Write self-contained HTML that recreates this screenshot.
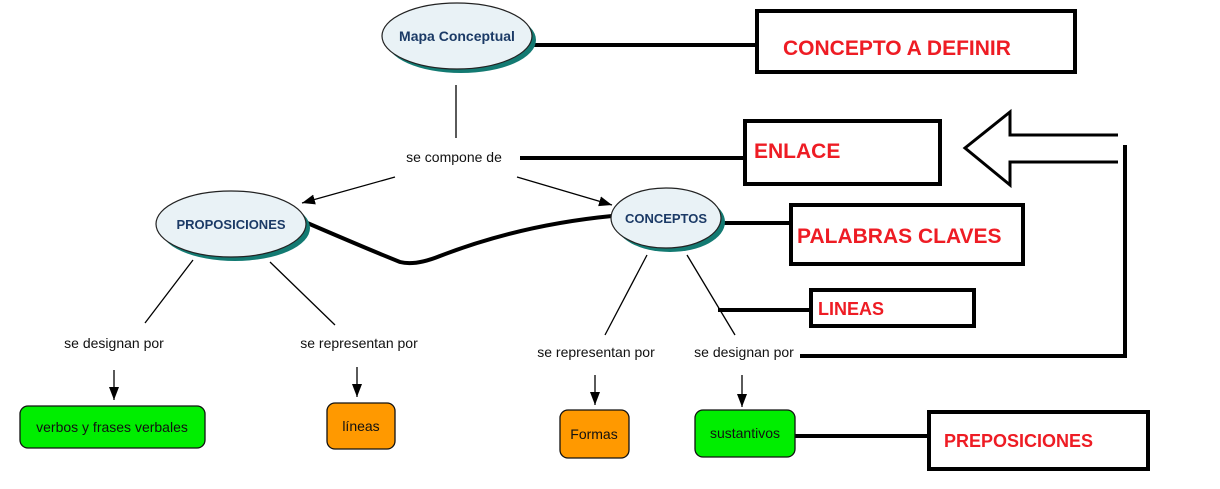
<!DOCTYPE html><html><head><style>body{margin:0;background:#fff}svg{display:block}</style></head><body>
<svg width="1220" height="489" xmlns="http://www.w3.org/2000/svg" font-family="Liberation Sans, sans-serif">
<defs><marker id="a" markerWidth="10" markerHeight="10" refX="9" refY="5" orient="auto" markerUnits="userSpaceOnUse"><path d="M0,0L10,5L0,10z" fill="#000"/></marker>
<marker id="b" markerWidth="14" markerHeight="14" refX="13" refY="7" orient="auto" markerUnits="userSpaceOnUse"><path d="M0,2L13,7L0,12z" fill="#000"/></marker></defs>
<g stroke="#000" stroke-width="1.3" fill="none">
<line x1="456" y1="85" x2="456" y2="138"/>
<line x1="395" y1="177" x2="302" y2="203" marker-end="url(#b)"/>
<line x1="517" y1="177" x2="612" y2="205" marker-end="url(#b)"/>
<line x1="193" y1="260" x2="145" y2="323"/>
<line x1="270" y1="262" x2="335" y2="325"/>
<line x1="647" y1="255" x2="605" y2="335"/>
<line x1="687" y1="255" x2="735" y2="335"/>
<line x1="114" y1="370" x2="114" y2="400" marker-end="url(#b)"/>
<line x1="357" y1="367" x2="357" y2="397" marker-end="url(#b)"/>
<line x1="595" y1="375" x2="595" y2="405" marker-end="url(#b)"/>
<line x1="742" y1="375" x2="742" y2="407" marker-end="url(#b)"/>
</g>
<g stroke="#000" stroke-width="4" fill="none">
<line x1="533" y1="45" x2="756" y2="45"/>
<line x1="520" y1="158" x2="744" y2="158"/>
<line x1="720" y1="223" x2="790" y2="223"/>
<line x1="718" y1="310" x2="810" y2="310"/>
<line x1="795" y1="436" x2="928" y2="436"/>
<path d="M305,222 Q370,250 400,262 Q415,266 440,256 Q520,225 612,216"/>
<path d="M800,356 L1125,356 L1125,145"/>
<path d="M1118,135 L1010,135 L1010,112 L965,148 L1010,185 L1010,162 L1118,162" stroke-width="3"/>
</g>
<g stroke="#000" stroke-width="4" fill="#fff">
<rect x="757" y="11" width="318" height="61"/>
<rect x="745" y="121" width="195" height="63"/>
<rect x="791" y="205" width="232" height="59"/>
<rect x="811" y="290" width="163" height="36"/>
<rect x="929" y="412" width="219" height="57"/>
</g>
<g fill="#ee1c24" font-weight="bold" font-size="21">
<text x="783" y="55">CONCEPTO A DEFINIR</text>
<text x="754" y="158">ENLACE</text>
<text x="797" y="243">PALABRAS CLAVES</text>
<text x="818" y="315" font-size="18">LINEAS</text>
<text x="944" y="447" font-size="18">PREPOSICIONES</text>
</g>
<g stroke="#222" stroke-width="1.2">
<ellipse cx="461" cy="40" rx="75" ry="33" fill="#137a72" stroke="none"/>
<ellipse cx="457" cy="36" rx="75" ry="33" fill="#e9f2f6"/>
<ellipse cx="235" cy="228" rx="75" ry="33" fill="#137a72" stroke="none"/>
<ellipse cx="231" cy="224" rx="75" ry="33" fill="#e9f2f6"/>
<ellipse cx="670" cy="222" rx="55" ry="30" fill="#137a72" stroke="none"/>
<ellipse cx="666" cy="218" rx="55" ry="30" fill="#e9f2f6"/>
</g>
<g fill="#1b3a66" font-weight="bold" font-size="14" text-anchor="middle">
<text x="457" y="41">Mapa Conceptual</text>
<text x="231" y="229" font-size="13">PROPOSICIONES</text>
<text x="666" y="223" font-size="13">CONCEPTOS</text>
</g>
<g font-size="14" fill="#111" text-anchor="middle">
<text x="454" y="162">se compone de</text>
<text x="114" y="348">se  designan por</text>
<text x="359" y="348">se representan por</text>
<text x="596" y="357">se representan por</text>
<text x="744" y="357">se designan por</text>
</g>
<g stroke="#111" stroke-width="1.3">
<rect x="20" y="406" width="185" height="42" rx="8" fill="#00ee00"/>
<rect x="327" y="403" width="68" height="46" rx="8" fill="#ff9900"/>
<rect x="560" y="410" width="69" height="48" rx="8" fill="#ff9900"/>
<rect x="695" y="410" width="100" height="47" rx="8" fill="#00ee00"/>
</g>
<g font-size="14" fill="#111" text-anchor="middle">
<text x="112" y="432">verbos y frases verbales</text>
<text x="361" y="431">líneas</text>
<text x="594" y="439">Formas</text>
<text x="745" y="438">sustantivos</text>
</g>
</svg></body></html>
